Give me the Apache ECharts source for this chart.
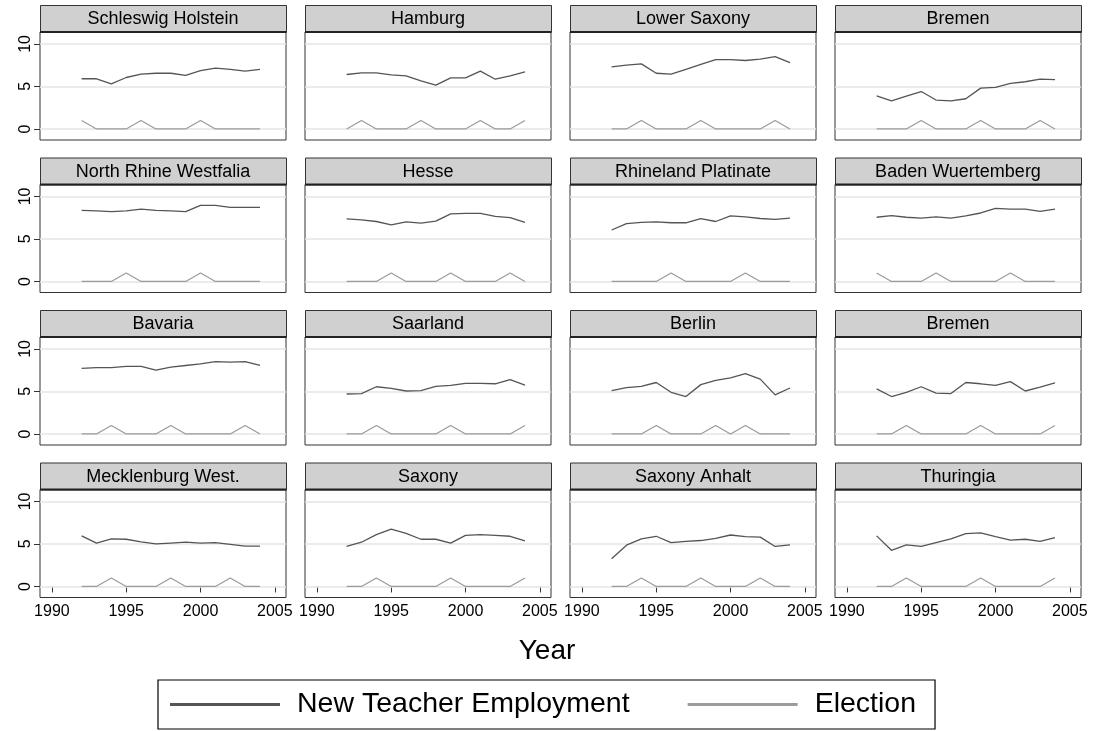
<!DOCTYPE html>
<html>
<head>
<meta charset="utf-8">
<title>New Teacher Employment and Elections by State</title>
<script src="https://cdn.jsdelivr.net/npm/echarts@6/dist/echarts.min.js"></script>
<style>
  html, body { margin: 0; padding: 0; background: #fff; }
  #chart { width: 1096px; height: 731px; }
</style>
</head>
<body>
<div id="chart"></div>
<script>
// Years observed in every state panel
const years = [1992, 1993, 1994, 1995, 1996, 1997, 1998, 1999, 2000, 2001, 2002, 2003, 2004];
const xTicks = [1990, 1995, 2000, 2005];
const yTicks = [0, 5, 10];

const stateNames = [
  'Schleswig Holstein', 'Hamburg', 'Lower Saxony', 'Bremen',
  'North Rhine Westfalia', 'Hesse', 'Rhineland Platinate', 'Baden Wuertemberg',
  'Bavaria', 'Saarland', 'Berlin', 'Bremen',
  'Mecklenburg West.', 'Saxony', 'Saxony Anhalt', 'Thuringia'
];

// New teacher employment per state
const teachSchleswig = [5.9, 5.9, 5.3, 6.05, 6.45, 6.55, 6.55, 6.3, 6.85, 7.15, 7.0, 6.8, 7.0];
const teachHamburg   = [6.4, 6.6, 6.6, 6.35, 6.25, 5.65, 5.15, 6.0, 6.0, 6.8, 5.85, 6.25, 6.7];
const teachLowerSax  = [7.3, 7.5, 7.65, 6.55, 6.45, 7.0, 7.6, 8.15, 8.15, 8.05, 8.2, 8.5, 7.8];
const teachBremenA   = [3.9, 3.3, 3.85, 4.4, 3.4, 3.3, 3.55, 4.8, 4.9, 5.35, 5.55, 5.85, 5.8];
const teachNRW       = [8.35, 8.3, 8.2, 8.3, 8.5, 8.35, 8.3, 8.2, 8.95, 8.95, 8.7, 8.7, 8.7];
const teachHesse     = [7.35, 7.25, 7.05, 6.65, 7.0, 6.85, 7.1, 7.95, 8.0, 8.0, 7.65, 7.5, 6.95];
const teachRhineland = [6.05, 6.8, 6.95, 7.0, 6.9, 6.9, 7.4, 7.05, 7.7, 7.6, 7.4, 7.3, 7.45];
const teachBaden     = [7.55, 7.75, 7.55, 7.45, 7.6, 7.45, 7.7, 8.05, 8.6, 8.5, 8.5, 8.25, 8.5];
const teachBavaria   = [7.7, 7.8, 7.8, 7.95, 7.95, 7.5, 7.85, 8.05, 8.25, 8.5, 8.45, 8.5, 8.05];
const teachSaarland  = [4.7, 4.75, 5.55, 5.35, 5.05, 5.1, 5.6, 5.7, 5.95, 5.95, 5.9, 6.4, 5.75];
const teachBerlin    = [5.1, 5.45, 5.6, 6.05, 4.9, 4.4, 5.8, 6.3, 6.6, 7.1, 6.45, 4.6, 5.4];
const teachBremenB   = [5.3, 4.4, 4.9, 5.55, 4.8, 4.75, 6.05, 5.9, 5.7, 6.15, 5.05, 5.5, 6.0];
const teachMecklen   = [5.95, 5.1, 5.6, 5.55, 5.25, 5.0, 5.1, 5.2, 5.1, 5.15, 4.95, 4.75, 4.75];
const teachSaxony    = [4.7, 5.2, 6.1, 6.75, 6.25, 5.55, 5.55, 5.1, 6.0, 6.1, 6.0, 5.9, 5.35];
const teachSaxAnhalt = [3.25, 4.85, 5.6, 5.9, 5.15, 5.3, 5.4, 5.65, 6.05, 5.85, 5.8, 4.7, 4.9];
const teachThuringia = [5.95, 4.25, 4.9, 4.7, 5.15, 5.6, 6.2, 6.3, 5.85, 5.45, 5.55, 5.3, 5.75];

// Election year indicator per state
const electSchleswig = [1, 0, 0, 0, 1, 0, 0, 0, 1, 0, 0, 0, 0];
const electHamburg   = [0, 1, 0, 0, 0, 1, 0, 0, 0, 1, 0, 0, 1];
const electLowerSax  = [0, 0, 1, 0, 0, 0, 1, 0, 0, 0, 0, 1, 0];
const electBremenA   = [0, 0, 0, 1, 0, 0, 0, 1, 0, 0, 0, 1, 0];
const electNRW       = [0, 0, 0, 1, 0, 0, 0, 0, 1, 0, 0, 0, 0];
const electHesse     = [0, 0, 0, 1, 0, 0, 0, 1, 0, 0, 0, 1, 0];
const electRhineland = [0, 0, 0, 0, 1, 0, 0, 0, 0, 1, 0, 0, 0];
const electBaden     = [1, 0, 0, 0, 1, 0, 0, 0, 0, 1, 0, 0, 0];
const electBavaria   = [0, 0, 1, 0, 0, 0, 1, 0, 0, 0, 0, 1, 0];
const electSaarland  = [0, 0, 1, 0, 0, 0, 0, 1, 0, 0, 0, 0, 1];
const electBerlin    = [0, 0, 0, 1, 0, 0, 0, 1, 0, 1, 0, 0, 0];
const electBremenB   = [0, 0, 1, 0, 0, 0, 0, 1, 0, 0, 0, 0, 1];
const electMecklen   = [0, 0, 1, 0, 0, 0, 1, 0, 0, 0, 1, 0, 0];
const electSaxony    = [0, 0, 1, 0, 0, 0, 0, 1, 0, 0, 0, 0, 1];
const electSaxAnhalt = [0, 0, 1, 0, 0, 0, 1, 0, 0, 0, 1, 0, 0];
const electThuringia = [0, 0, 1, 0, 0, 0, 0, 1, 0, 0, 0, 0, 1];

const teachSeries = [
  teachSchleswig, teachHamburg, teachLowerSax, teachBremenA,
  teachNRW, teachHesse, teachRhineland, teachBaden,
  teachBavaria, teachSaarland, teachBerlin, teachBremenB,
  teachMecklen, teachSaxony, teachSaxAnhalt, teachThuringia
];
const electSeries = [
  electSchleswig, electHamburg, electLowerSax, electBremenA,
  electNRW, electHesse, electRhineland, electBaden,
  electBavaria, electSaarland, electBerlin, electBremenB,
  electMecklen, electSaxony, electSaxAnhalt, electThuringia
];

// Panel layout
const FONT = '"Liberation Sans", Arial, Helvetica, sans-serif';
const colLeft = [40, 305, 570, 835];
const panelW = 246;
const rowTop = [5, 157.5, 310, 462.5];
const headerH = 27;
const plotH = 108;
const TEACH_COLOR = '#555555';
const ELECT_COLOR = '#9c9c9c';

const grids = [], xAxes = [], yAxes = [], series = [], graphics = [];

for (let i = 0; i < 16; i++) {
  const r = Math.floor(i / 4), c = i % 4;
  const left = colLeft[c], top = rowTop[r];

  grids.push({
    left: left, top: top + headerH, width: panelW, height: plotH,
    show: true, backgroundColor: '#fff', borderColor: '#333', borderWidth: 1
  });

  const bottomRow = r === 3;
  xAxes.push({
    gridIndex: i, type: 'value', min: 1989.2, max: 2005.75,
    axisLine: { show: false },
    splitLine: { show: false },
    axisTick: { show: bottomRow, customValues: xTicks, length: 6, lineStyle: { color: '#333', width: 1 } },
    axisLabel: {
      show: bottomRow, customValues: xTicks, fontSize: 16, color: '#000', fontFamily: FONT, margin: 6,
      formatter: v => String(v)
    }
  });

  const firstCol = c === 0;
  yAxes.push({
    gridIndex: i, type: 'value', min: -1.3, max: 11.4,
    axisLine: { show: false },
    splitLine: { show: false },
    axisTick: { show: firstCol, customValues: yTicks, length: 6, lineStyle: { color: '#333', width: 1 } },
    axisLabel: { show: firstCol, customValues: yTicks, rotate: 90, fontSize: 16, color: '#000', fontFamily: FONT, margin: 6 }
  });

  // horizontal reference lines at the labelled values
  series.push({
    type: 'line', xAxisIndex: i, yAxisIndex: i, data: [], z: 1, silent: true,
    markLine: {
      silent: true, symbol: 'none', z: 1, animation: false,
      label: { show: false },
      lineStyle: { color: '#e4e4e4', width: 1.6, type: 'solid' },
      data: yTicks.map(v => ({ yAxis: v }))
    }
  });

  series.push({
    name: 'New Teacher Employment', type: 'line', xAxisIndex: i, yAxisIndex: i,
    data: years.map((y, k) => [y, teachSeries[i][k]]),
    symbol: 'none', z: 3, silent: true,
    lineStyle: { color: TEACH_COLOR, width: 1.3 }, itemStyle: { color: TEACH_COLOR }
  });
  series.push({
    name: 'Election', type: 'line', xAxisIndex: i, yAxisIndex: i,
    data: years.map((y, k) => [y, electSeries[i][k]]),
    symbol: 'none', z: 3, silent: true,
    lineStyle: { color: ELECT_COLOR, width: 1.3 }, itemStyle: { color: ELECT_COLOR }
  });

  // panel header strip with state name
  graphics.push({
    type: 'rect', left: left, top: top, silent: true, z: 10,
    shape: { x: 0, y: 0, width: panelW, height: headerH },
    style: { fill: '#d0d0d0', stroke: '#333', lineWidth: 1 }
  });
  graphics.push({
    type: 'line', silent: true, z: 11,
    shape: { x1: left, y1: top + headerH, x2: left + panelW, y2: top + headerH },
    style: { stroke: '#222', lineWidth: 2 }
  });
  graphics.push({
    type: 'text', silent: true, z: 12,
    x: left + panelW / 2, y: top + headerH / 2 + 1,
    style: { text: stateNames[i], fill: '#000', font: '18px ' + FONT, align: 'center', verticalAlign: 'middle' }
  });
}

// shared x-axis title
graphics.push({
  type: 'text', silent: true, z: 12, x: 547, y: 651,
  style: { text: 'Year', fill: '#000', font: '28px ' + FONT, align: 'center', verticalAlign: 'middle' }
});

const chart = echarts.init(document.getElementById('chart'), null, { renderer: 'canvas' });
chart.setOption({
  animation: false,
  backgroundColor: '#fff',
  textStyle: { fontFamily: FONT },
  grid: grids,
  xAxis: xAxes,
  yAxis: yAxes,
  series: series,
  graphic: graphics,
  legend: {
    data: [
      { name: 'New Teacher Employment', icon: 'rect', itemStyle: { color: TEACH_COLOR } },
      { name: 'Election', icon: 'rect', itemStyle: { color: ELECT_COLOR } }
    ],
    left: 158, top: 680,
    selectedMode: false,
    borderColor: '#000', borderWidth: 1.2,
    padding: [10, 19, 10, 12],
    itemWidth: 110, itemHeight: 3, itemGap: 58,
    textStyle: { fontSize: 28.5, color: '#000', fontFamily: FONT, padding: [0, 0, 0, 12] }
  }
});
</script>
</body>
</html>
